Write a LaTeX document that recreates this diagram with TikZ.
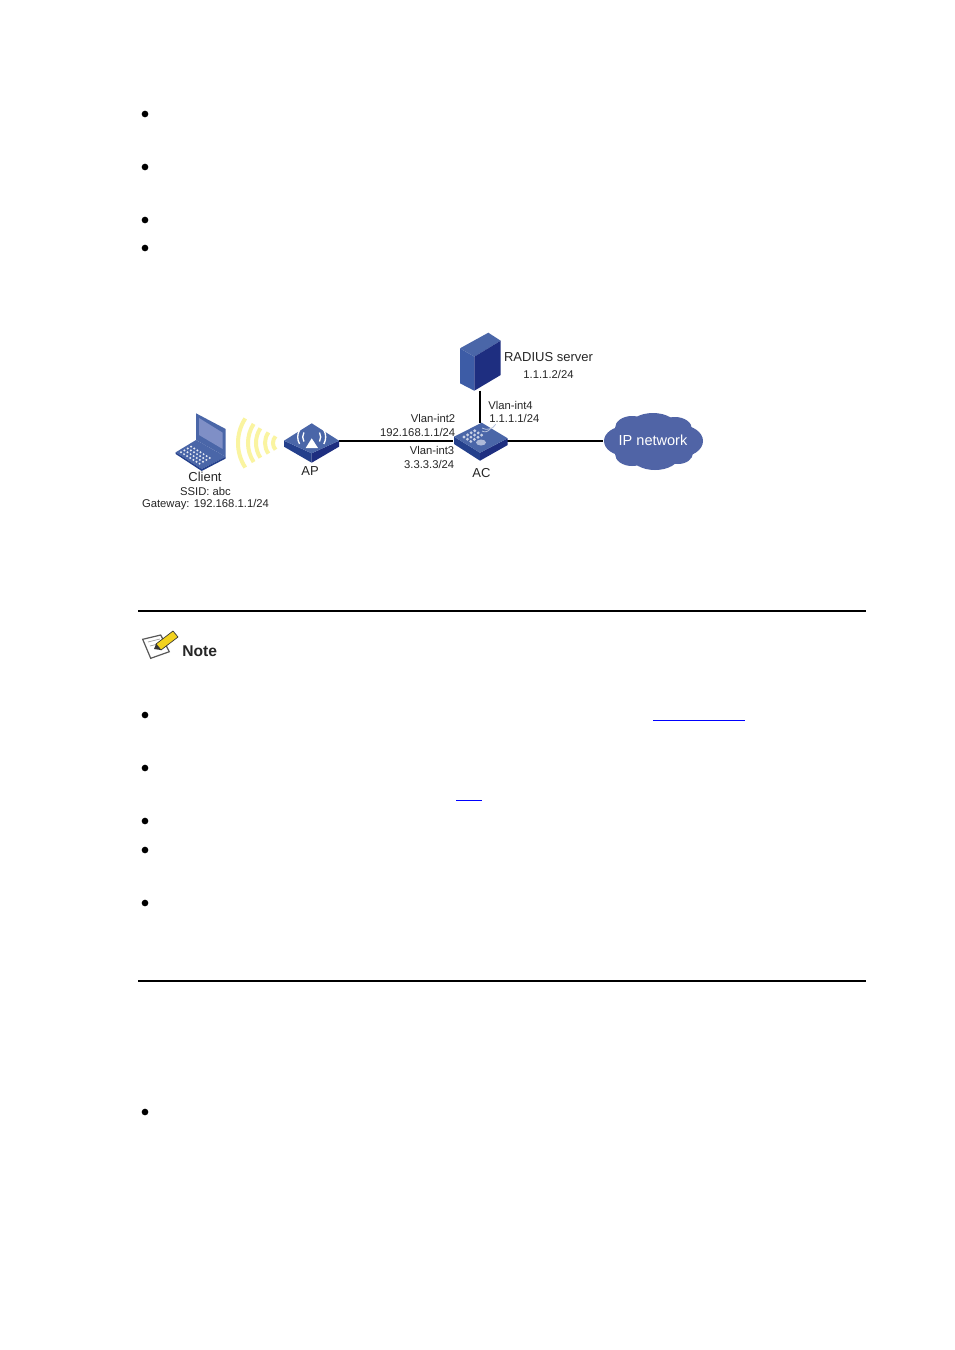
\documentclass[tikz,border=0pt]{standalone}
\usepackage{fontspec}
\setmainfont{Liberation Sans}
\usepackage{xcolor}
\usetikzlibrary{positioning}
\definecolor{devblue}{HTML}{4A66A8}
\definecolor{devside}{HTML}{24408C}
\definecolor{devdark}{HTML}{1E2E80}
\definecolor{devlight}{HTML}{3D5CA6}
\definecolor{screenblue}{HTML}{7F8FC6}
\definecolor{cloudblue}{HTML}{5064A6}
\definecolor{waveyellow}{HTML}{FAF4A0}
\definecolor{linkblue}{HTML}{0000FF}
\definecolor{pencilyellow}{HTML}{F2D21E}
\begin{document}
\begin{tikzpicture}[x=0.75pt,y=-0.75pt,
 font=\fontsize{9.75}{11}\selectfont,
 link/.style={draw=black,line width=1.5pt},
 rulerline/.style={draw=black,line width=1.3pt},
 lbl/.style={inner sep=0pt,text=black!85},
 smalllbl/.style={lbl,font=\fontsize{8.45}{10}\selectfont},
 anchorbox/.style={inner sep=0pt,outer sep=0pt,rectangle},
 bulletdot/.style={circle,fill=black,inner sep=0pt,minimum size=5pt}]
\useasboundingbox (0,0) rectangle (954,1350);
\fill[white] (0,0) rectangle (954,1350);
% device anchors
\node[anchorbox,minimum width=41.25pt,minimum height=3pt] (ap) at (311.5,440.5) {};
\node[anchorbox,minimum width=40pt,minimum height=26pt] (ac) at (480,440.5) {};
\node[anchorbox,minimum width=30pt,minimum height=43pt] (srv) at (480,362) {};
% links
\draw[link] (ap) -- (ac);
\draw[link] (srv.south) -- (ac.north);
% cloud
\fill[cloudblue] (653,441) ellipse (38 and 20);
\foreach \cx/\cy/\rada/\radb in {626/441/22/15,680/441/23/16,632/428/17/12,653/427/24/14,675/429/17/12,632/454/17/12,655/456/24/14,678/453/15/11}
 \fill[cloudblue] (\cx,\cy) ellipse [x radius=\rada,y radius=\radb];
\node[anchorbox,minimum width=75pt,minimum height=43pt,text=white,font=\fontsize{10.9}{12}\selectfont] (ipnet) at (653,440.5) {IP network};
\draw[link] (ac) -- (ipnet);
% server
\fill[devlight] (460,348.3) -- (474.3,356.7) -- (474.3,390.7) -- (460,383.3) -- cycle;
\fill[devblue] (460,348.3) -- (488.3,332.7) -- (500.7,340.7) -- (474.3,356.7) -- cycle;
\fill[devdark] (474.3,356.7) -- (500.7,340.7) -- (500.7,375) -- (474.3,390.7) -- cycle;
% AC
\fill[devside] (454,436.7) -- (480,452.7) -- (480,460.7) -- (454,444) -- cycle;
\fill[devdark] (480,452.7) -- (507.7,438.3) -- (507.7,445) -- (480,460.7) -- cycle;
\fill[devblue] (454,436.7) -- (481.7,422.7) -- (507.7,438.3) -- (480,452.7) -- cycle;
\foreach \i in {0,1,2,3}
 \foreach \j in {0,1,2}
  \fill[white!70!devblue] (464+\i*3.6+\j*3.4,437-\i*2.1+\j*2.2) circle (1.6);
\fill[white!55!devblue] (481,442.5) ellipse (5 and 3);
\draw[white!60!devblue,line width=0.6pt] (482,431) arc (120:30:6);
\draw[white!60!devblue,line width=0.6pt] (482,428) arc (120:30:10);
% AP
\fill[devside] (284,440.7) -- (311.7,453.3) -- (311.7,462.7) -- (284,446.7) -- cycle;
\fill[devdark] (311.7,453.3) -- (339,440.7) -- (339,446.7) -- (311.7,462.7) -- cycle;
\fill[devblue] (284,440.7) -- (311.7,423.3) -- (339,440.7) -- (311.7,453.3) -- cycle;
\fill[white] (311.7,438.3) -- (318,448) -- (305.7,448) -- cycle;
\foreach \rr in {9,14}{
 \draw[white,line width=1pt] (311.7,437) ++(150:\rr) arc (150:210:\rr);
 \draw[white,line width=1pt] (311.7,437) ++(30:\rr) arc (30:-30:\rr);
}
% laptop
\fill[devblue] (196,413.3) -- (225.7,429) -- (225.7,456.7) -- (196,440) -- cycle;
\fill[screenblue] (199,418) -- (222.7,432.7) -- (222.7,449) -- (199,435) -- cycle;
\fill[devblue] (175.7,452.3) -- (196,440) -- (225.7,456.7) -- (201.7,469) -- cycle;
\fill[devside] (175.7,452.3) -- (201.7,469) -- (225.7,456.7) -- (225.7,458.5) -- (201.7,471) -- (175.7,454) -- cycle;
\foreach \i in {0,...,6}
 \foreach \j in {0,...,3}
  \fill[white!85!devblue] (181+\i*3.1+\j*3.4,452.3+\i*1.9-\j*1.9) circle (1.1);
% waves
\foreach \rr/\aa in {45/33,35/33,27/33,18/36,10/42}
 \draw[waveyellow,line width=3pt] (283,443) ++(180-\aa:\rr) arc (180-\aa:180+\aa:\rr);
% labels
\node[lbl] (clientlbl) at (205,477) {Client};
\node[smalllbl] (ssid) at (205.5,491) {SSID: abc};
\node[smalllbl] (gw) at (205.5,504.5) {Gateway: 192.168.1.1/24};
\node[lbl] (aplbl) at (310,471.5) {AP};
\node[lbl] (aclbl) at (481.5,473) {AC};
\node[smalllbl,anchor=east] (int2) at (455.5,418.5) {Vlan-int2};
\node[smalllbl,anchor=east] (ip2) at (455.5,432) {192.168.1.1/24};
\node[smalllbl,anchor=east] (int3) at (454.5,450.5) {Vlan-int3};
\node[smalllbl,anchor=east] (ip3) at (454.5,464) {3.3.3.3/24};
\node[smalllbl,anchor=west] (int4) at (488,405.5) {Vlan-int4};
\node[smalllbl,anchor=west] (ip4) at (489,418.5) {1.1.1.1/24};
\node[lbl] (srvlbl) at (548.5,357) {RADIUS server};
\node[smalllbl] (srvip) at (548.5,374) {1.1.1.2/24};
% note
\draw[rulerline] (138,611) -- (866,611);
\draw[rulerline] (138,981) -- (866,981);
\fill[white] (142.7,639.3) -- (160.7,635) -- (169.3,651.7) -- (150.7,658.3) -- cycle;
\draw[black!65,line width=0.9pt] (142.7,639.3) -- (160.7,635) -- (169.3,651.7) -- (150.7,658.3) -- cycle;
\draw[black!40,line width=0.5pt] (148,642) -- (160,639) (150,646) -- (158,644);
\fill[pencilyellow] (156,644) -- (173,631) -- (178,637) -- (161,650) -- cycle;
\draw[black!80,line width=0.5pt] (156,644) -- (173,631) -- (178,637) -- (161,650) -- cycle;
\fill[black!80] (156,644) -- (161,650) -- (154,649) -- cycle;
\node[anchor=west,inner sep=0pt,text=black!85,font=\fontsize{11.7}{13}\selectfont\bfseries] (notelbl) at (182,651.5) {Note};
% bullets
\foreach \by in {114,167,220,248,715,768,821,850,903,1112}
 \node[bulletdot] at (145,\by) {};
% blue underlines
\draw[linkblue,line width=0.7pt] (653,720.5) -- (745,720.5);
\draw[linkblue,line width=0.7pt] (456,800.5) -- (482,800.5);
\end{tikzpicture}
\end{document}
